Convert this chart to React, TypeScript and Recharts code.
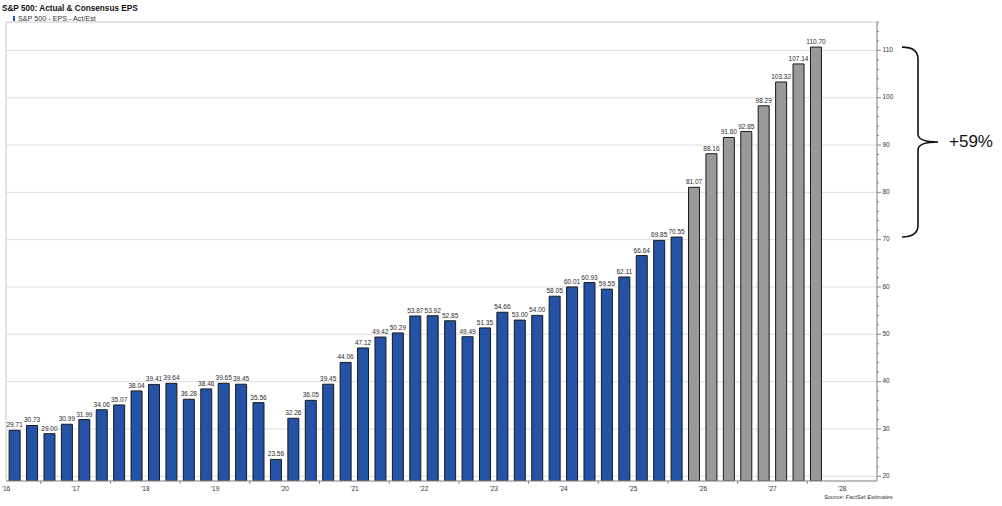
import React from 'react';
import {
  BarChart,
  Bar,
  XAxis,
  YAxis,
  CartesianGrid,
  Cell,
  LabelList,
  ReferenceArea,
} from 'recharts';

// quarterly EPS, 2016 Q1 .. 2025 Q3 actual, then consensus estimates
const ACTUAL = [
  29.71, 30.73, 29.0, 30.99, 31.99, 34.06, 35.07, 38.04, 39.41, 39.64,
  36.28, 38.46, 39.65, 39.45, 35.56, 23.56, 32.26, 36.05, 39.45, 44.06,
  47.12, 49.42, 50.29, 53.87, 53.92, 52.85, 49.49, 51.35, 54.66, 53.0,
  54.0, 58.05, 60.01, 60.93, 59.55, 62.11, 66.64, 69.85, 70.55,
];
const ESTIMATE = [81.07, 88.16, 91.6, 92.85, 98.29, 103.32, 107.14, 110.7];

const YEARS = ["'16", "'17", "'18", "'19", "'20", "'21", "'22", "'23", "'24", "'25", "'26", "'27", "'28"];
const QUARTERS = YEARS.flatMap((y) => ['Q1', 'Q2', 'Q3', 'Q4'].map((q) => `${q} ${y}`)).slice(0, 50);

const Y_TICKS = [20, 22, 24, 26, 28, 30, 32, 34, 36, 38, 40, 42, 44, 46, 48, 50, 52, 54, 56, 58, 60, 62, 64, 66, 68, 70, 72, 74, 76, 78, 80, 82, 84, 86, 88, 90, 92, 94, 96, 98, 100, 102, 104, 106, 108, 110, 112, 114, 116];
const GRID_VALUES = [20, 30, 40, 50, 60, 70, 80, 90, 100, 110];

const BLUE = '#2352a6';
const GRAY = '#999999';
const FONT = '"Liberation Sans", Arial, sans-serif';

const W = 1002;
const H = 506;
const MARGIN = { top: 22, right: 105, bottom: 7, left: 6 };
const Y_AXIS_W = 20;
const PLOT_W = W - MARGIN.left - MARGIN.right - Y_AXIS_W;
const BAND = PLOT_W / QUARTERS.length;

const data = QUARTERS.map((q, i) => {
  const isEst = i >= ACTUAL.length;
  const v = isEst ? ESTIMATE[i - ACTUAL.length] : ACTUAL[i];
  return { q, eps: v === undefined ? null : v, est: isEst };
});

const XTick = (props: any) => {
  const { x, y, index } = props;
  const left = x - BAND / 2;
  if (index % 4 === 0) {
    return (
      <text x={left} y={y + 8} textAnchor="middle" dominantBaseline="middle" fontSize={6.5} fill="#333" fontFamily={FONT}>
        {YEARS[index / 4]}
      </text>
    );
  }
  if (index % 4 === 2) {
    return <line x1={left} y1={y} x2={left} y2={y + 3} stroke="#888" strokeWidth={1} />;
  }
  return null;
};

const YTick = (props: any) => {
  const { x, y, payload } = props;
  const major = payload.value % 10 === 0;
  return (
    <g>
      <line x1={x} y1={y} x2={x + (major ? 4 : 2)} y2={y} stroke="#888" strokeWidth={1} />
      {major && (
        <text x={x + 5.5} y={y} dominantBaseline="middle" fontSize={6.5} fill="#333" fontFamily={FONT}>
          {payload.value}
        </text>
      )}
    </g>
  );
};

// curly brace + growth label to the right of the axis
const Brace = (props: any) => {
  const { x, y, width, height } = props;
  const x0 = x + width + 25;
  const x1 = x0 + 16;
  const tip = x0 + 36;
  const yT = y;
  const yB = y + height;
  const yM = (yT + yB) / 2;
  const d = `M ${x0} ${yT} Q ${x1} ${yT} ${x1} ${yT + 12} L ${x1} ${yM - 8} Q ${x1} ${yM} ${tip} ${yM} Q ${x1} ${yM} ${x1} ${yM + 8} L ${x1} ${yB - 12} Q ${x1} ${yB} ${x0} ${yB}`;
  return (
    <g>
      <path d={d} fill="none" stroke="#111" strokeWidth={1.6} />
      <text x={tip + 11} y={yM} dominantBaseline="middle" fontSize={17} fill="#111" fontFamily={FONT}>
        +59%
      </text>
    </g>
  );
};

export default function App() {
  return (
    <div style={{ position: 'absolute', left: 0, top: 0, width: W, height: H, background: '#fff', fontFamily: FONT }}>
      <div style={{ position: 'absolute', left: 2, top: 4, fontSize: 8.2, fontWeight: 'bold', color: '#111', lineHeight: '10px' }}>
        S&amp;P 500: Actual &amp; Consensus EPS
      </div>
      <div style={{ position: 'absolute', left: 13, top: 14, fontSize: 7.2, color: '#333', lineHeight: '9px', display: 'flex', alignItems: 'center' }}>
        <span style={{ display: 'inline-block', width: 2, height: 5, background: BLUE, marginRight: 3 }} />
        S&amp;P 500 - EPS - Act/Est
      </div>
      <BarChart width={W} height={H} data={data} margin={MARGIN} barCategoryGap="18%">
        <CartesianGrid horizontal vertical={false} horizontalValues={GRID_VALUES} stroke="#dedede" />
        <ReferenceArea y1={19} y2={116} fill="none" stroke="#c8c8c8" strokeWidth={1} ifOverflow="visible" />
        <XAxis
          dataKey="q"
          interval={0}
          tick={<XTick />}
          tickLine={false}
          tickSize={0}
          tickMargin={0}
          axisLine={{ stroke: '#999' }}
          height={18}
        />
        <YAxis
          orientation="right"
          type="number"
          domain={[19, 116]}
          allowDataOverflow
          ticks={Y_TICKS}
          interval={0}
          tick={<YTick />}
          tickLine={false}
          tickSize={0}
          tickMargin={0}
          axisLine={{ stroke: '#999' }}
          width={Y_AXIS_W}
        />
        <Bar dataKey="eps" stroke="#1a1a1a" strokeWidth={1} isAnimationActive={false}>
          {data.map((d, i) => (
            <Cell key={`c-${i}`} fill={d.est ? GRAY : BLUE} />
          ))}
          <LabelList
            dataKey="eps"
            position="top"
            offset={3}
            formatter={(v: any) => (v == null ? '' : Number(v).toFixed(2))}
            style={{ fontSize: 6.5, fill: '#2a2a2a', fontFamily: FONT }}
          />
        </Bar>
        <ReferenceArea y1={70.55} y2={110.7} ifOverflow="visible" shape={<Brace />} />
      </BarChart>
      <div style={{ position: 'absolute', left: 824, top: 493, fontSize: 5.8, fontStyle: 'italic', color: '#333', lineHeight: '8px' }}>
        Source: FactSet Estimates
      </div>
    </div>
  );
}
